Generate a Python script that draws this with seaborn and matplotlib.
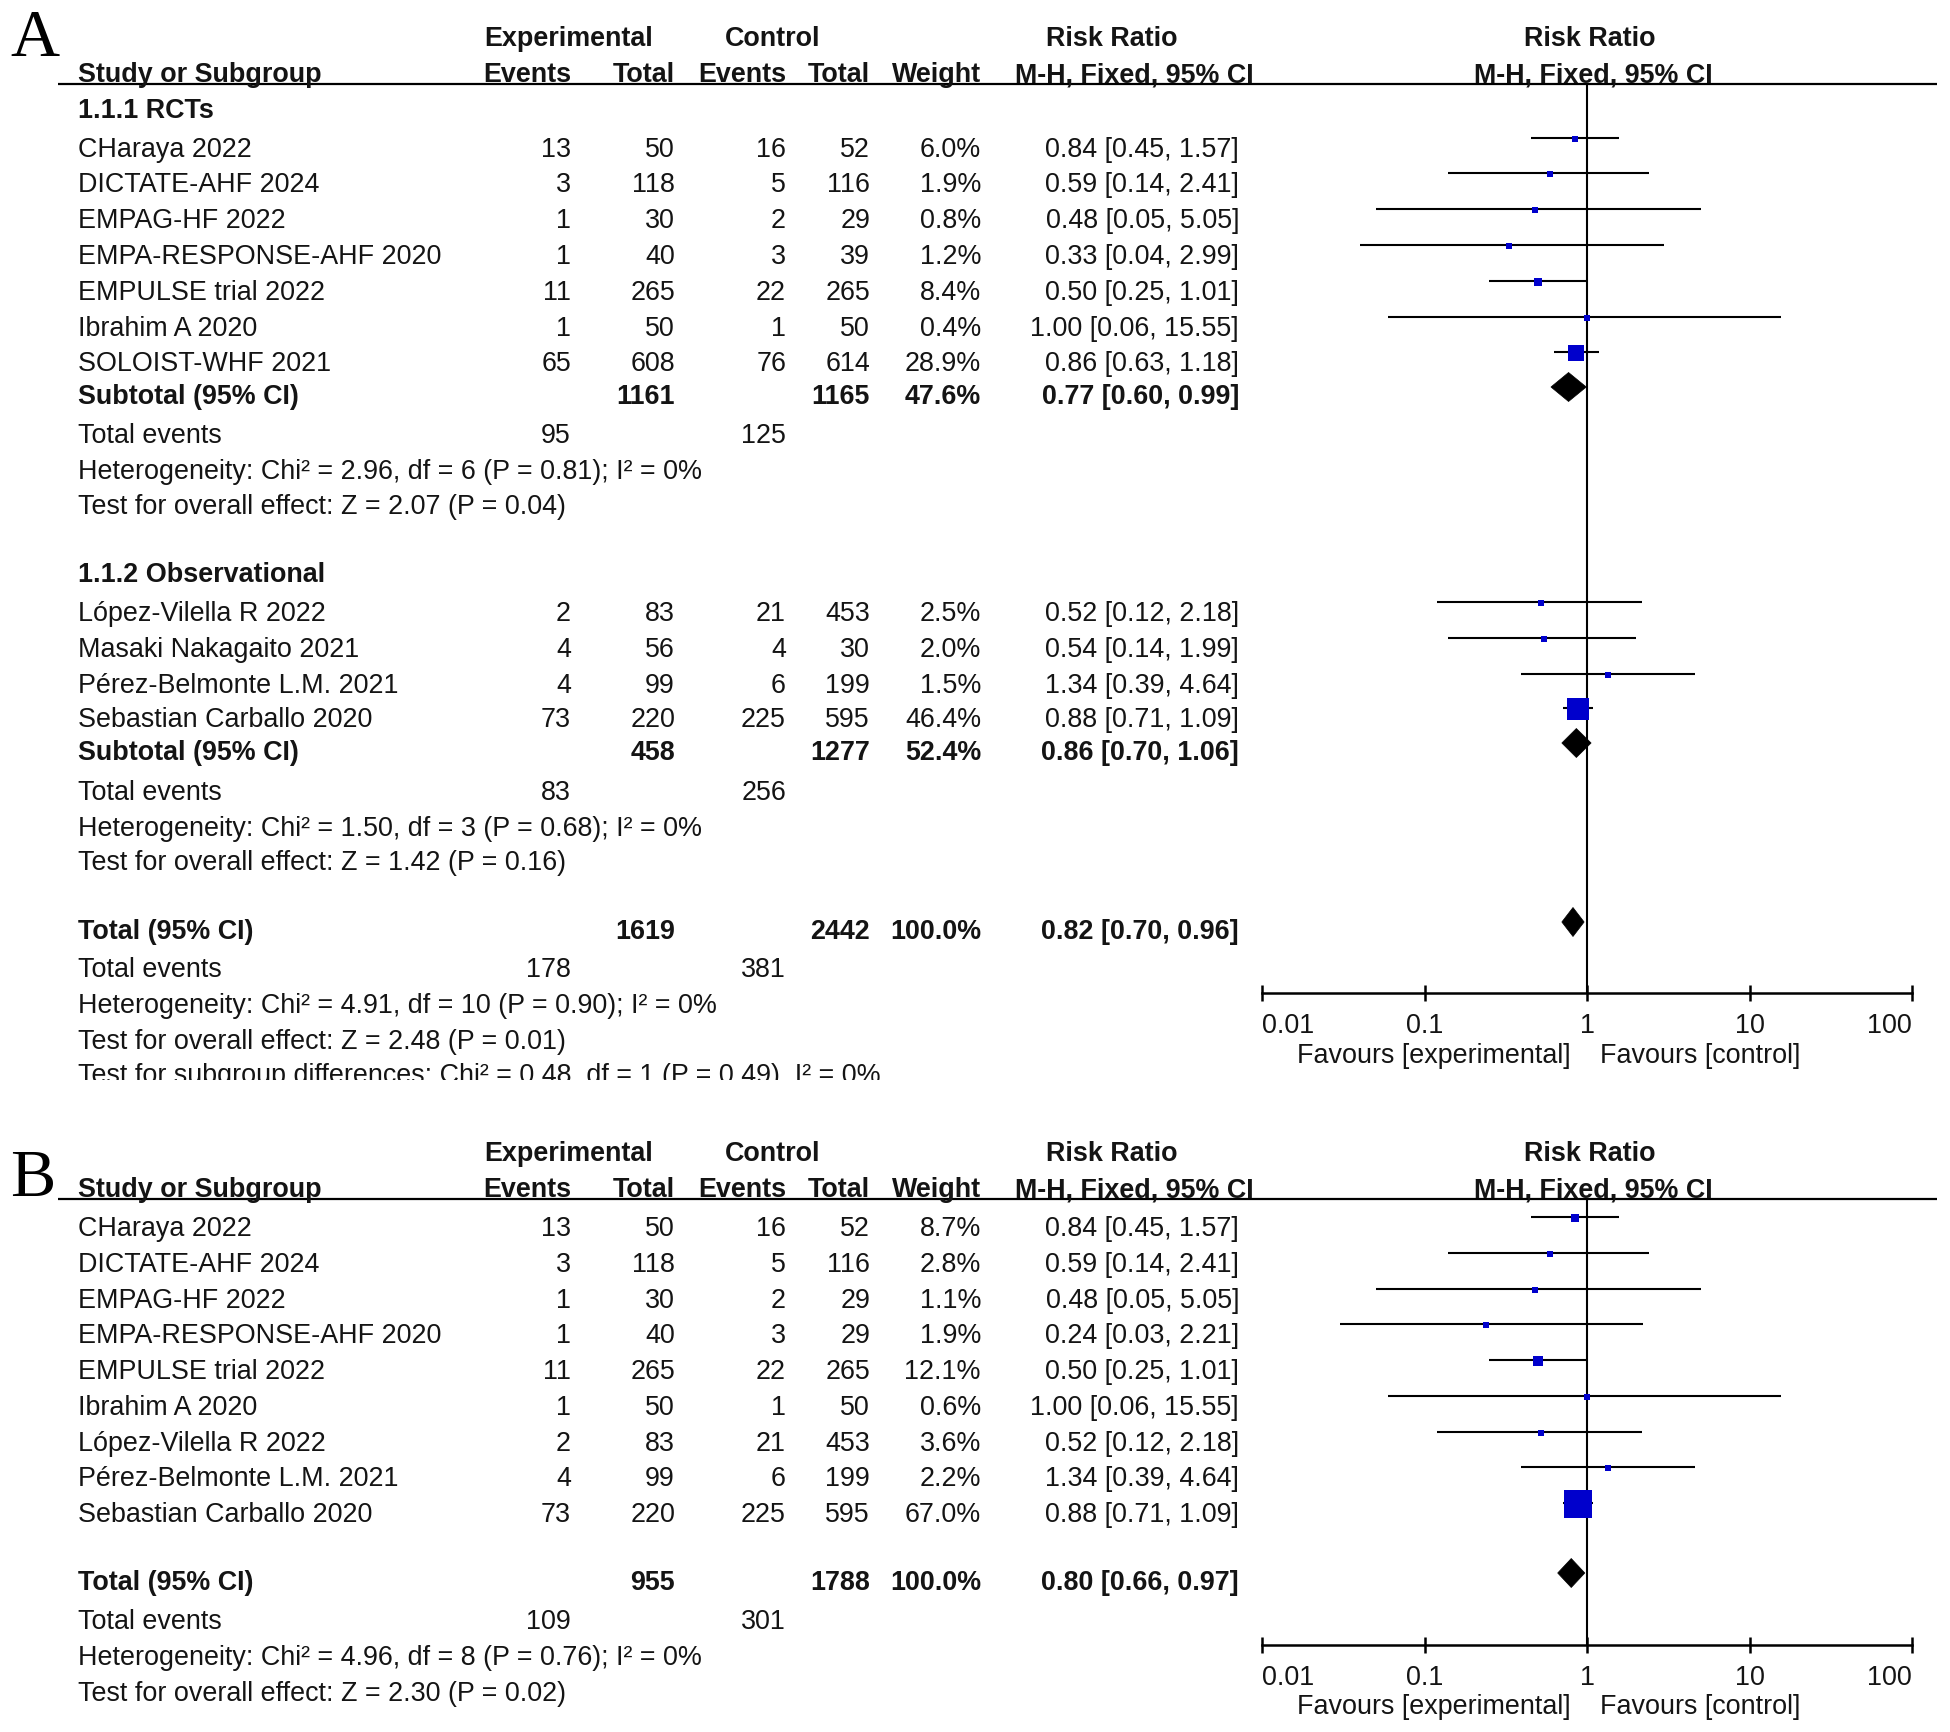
import numpy as np
import pandas as pd
import matplotlib
matplotlib.use("Agg")
import matplotlib.pyplot as plt
import matplotlib.transforms as mtransforms
from matplotlib.patches import Polygon
from matplotlib.ticker import NullLocator
import seaborn as sns

sns.set_theme(style="white")
plt.rcParams['font.family'] = ['Liberation Sans', 'DejaVu Sans']

# ---------------- data: panel A ----------------
rct_names = ["CHaraya 2022", "DICTATE-AHF 2024", "EMPAG-HF 2022", "EMPA-RESPONSE-AHF 2020",
             "EMPULSE trial 2022", "Ibrahim A 2020", "SOLOIST-WHF 2021"]
rct_exp_ev = [13, 3, 1, 1, 11, 1, 65]
rct_exp_tot = [50, 118, 30, 40, 265, 50, 608]
rct_ctl_ev = [16, 5, 2, 3, 22, 1, 76]
rct_ctl_tot = [52, 116, 29, 39, 265, 50, 614]
rct_weight = [6.0, 1.9, 0.8, 1.2, 8.4, 0.4, 28.9]
rct_rr = [0.84, 0.59, 0.48, 0.33, 0.50, 1.00, 0.86]
rct_lo = [0.45, 0.14, 0.05, 0.04, 0.25, 0.06, 0.63]
rct_hi = [1.57, 2.41, 5.05, 2.99, 1.01, 15.55, 1.18]
rct_subtotal = [1161, 1165, 47.6, 0.77, 0.60, 0.99]
rct_events = [95, 125]
rct_het = "Heterogeneity: Chi² = 2.96, df = 6 (P = 0.81); I² = 0%"
rct_test = "Test for overall effect: Z = 2.07 (P = 0.04)"

obs_names = ["López-Vilella R 2022", "Masaki Nakagaito 2021", "Pérez-Belmonte L.M. 2021",
             "Sebastian Carballo 2020"]
obs_exp_ev = [2, 4, 4, 73]
obs_exp_tot = [83, 56, 99, 220]
obs_ctl_ev = [21, 4, 6, 225]
obs_ctl_tot = [453, 30, 199, 595]
obs_weight = [2.5, 2.0, 1.5, 46.4]
obs_rr = [0.52, 0.54, 1.34, 0.88]
obs_lo = [0.12, 0.14, 0.39, 0.71]
obs_hi = [2.18, 1.99, 4.64, 1.09]
obs_subtotal = [458, 1277, 52.4, 0.86, 0.70, 1.06]
obs_events = [83, 256]
obs_het = "Heterogeneity: Chi² = 1.50, df = 3 (P = 0.68); I² = 0%"
obs_test = "Test for overall effect: Z = 1.42 (P = 0.16)"

a_total = [1619, 2442, 100.0, 0.82, 0.70, 0.96]
a_events = [178, 381]
a_het = "Heterogeneity: Chi² = 4.91, df = 10 (P = 0.90); I² = 0%"
a_test = "Test for overall effect: Z = 2.48 (P = 0.01)"
a_subgroup = "Test for subgroup differences: Chi² = 0.48, df = 1 (P = 0.49), I² = 0%"

# ---------------- data: panel B ----------------
b_names = ["CHaraya 2022", "DICTATE-AHF 2024", "EMPAG-HF 2022", "EMPA-RESPONSE-AHF 2020",
           "EMPULSE trial 2022", "Ibrahim A 2020", "López-Vilella R 2022",
           "Pérez-Belmonte L.M. 2021", "Sebastian Carballo 2020"]
b_exp_ev = [13, 3, 1, 1, 11, 1, 2, 4, 73]
b_exp_tot = [50, 118, 30, 40, 265, 50, 83, 99, 220]
b_ctl_ev = [16, 5, 2, 3, 22, 1, 21, 6, 225]
b_ctl_tot = [52, 116, 29, 29, 265, 50, 453, 199, 595]
b_weight = [8.7, 2.8, 1.1, 1.9, 12.1, 0.6, 3.6, 2.2, 67.0]
b_rr = [0.84, 0.59, 0.48, 0.24, 0.50, 1.00, 0.52, 1.34, 0.88]
b_lo = [0.45, 0.14, 0.05, 0.03, 0.25, 0.06, 0.12, 0.39, 0.71]
b_hi = [1.57, 2.41, 5.05, 2.21, 1.01, 15.55, 2.18, 4.64, 1.09]
b_total = [955, 1788, 100.0, 0.80, 0.66, 0.97]
b_events = [109, 301]
b_het = "Heterogeneity: Chi² = 4.96, df = 8 (P = 0.76); I² = 0%"
b_test = "Test for overall effect: Z = 2.30 (P = 0.02)"

x_ticks = [0.01, 0.1, 1, 10, 100]
x_tick_labels = ["0.01", "0.1", "1", "10", "100"]

# ---------------- layout ----------------
W, H = 1950, 1733
FS = 19.4
TXT = "#141414"
BLUE = "#0000CC"
X_NAME, X_EEV, X_ETOT, X_CEV, X_CTOT, X_W, X_RR = 78, 571, 675, 786, 870, 981, 1239
PLOT_L, PLOT_R = 1262, 1912

fig = plt.figure(figsize=(W / 100, H / 100), dpi=100)
fig.patch.set_facecolor("white")
bg = fig.add_axes([0, 0, 1, 1])
bg.set_xlim(0, W)
bg.set_ylim(H, 0)
bg.axis("off")


def txt(x, y, s, ha="left", bold=False, **kw):
    return bg.text(x, y + 9, s, ha=ha, va="baseline", fontsize=FS,
                   fontweight="bold" if bold else "normal", color=TXT, **kw)


def header(y1, y2, rule_y, letter, letter_base):
    bg.text(10, letter_base, letter, fontsize=49,
            family=["Liberation Serif", "DejaVu Serif"], color="black",
            ha="left", va="baseline")
    txt(569, y1, "Experimental", ha="center", bold=True)
    txt(773, y1, "Control", ha="center", bold=True)
    txt(1112, y1, "Risk Ratio", ha="center", bold=True)
    txt(1590, y1, "Risk Ratio", ha="center", bold=True)
    txt(X_NAME, y2, "Study or Subgroup", bold=True)
    txt(X_EEV, y2, "Events", ha="right", bold=True)
    txt(X_ETOT, y2, "Total", ha="right", bold=True)
    txt(X_CEV, y2, "Events", ha="right", bold=True)
    txt(X_CTOT, y2, "Total", ha="right", bold=True)
    txt(X_W, y2, "Weight", ha="right", bold=True)
    txt(1134, y2, "M-H, Fixed, 95% CI", ha="center", bold=True)
    txt(1593, y2, "M-H, Fixed, 95% CI", ha="center", bold=True)
    bg.plot([58, 1937], [rule_y, rule_y], color="black", lw=1.6, solid_capstyle="butt")


def study_rows(ys, names, eev, etot, cev, ctot, w, rr, lo, hi):
    for i, y in enumerate(ys):
        txt(X_NAME, y, names[i])
        txt(X_EEV, y, f"{eev[i]}", ha="right")
        txt(X_ETOT, y, f"{etot[i]}", ha="right")
        txt(X_CEV, y, f"{cev[i]}", ha="right")
        txt(X_CTOT, y, f"{ctot[i]}", ha="right")
        txt(X_W, y, f"{w[i]:.1f}%", ha="right")
        txt(X_RR, y, f"{rr[i]:.2f} [{lo[i]:.2f}, {hi[i]:.2f}]", ha="right")


def summary_row(y, label, vals):
    txt(X_NAME, y, label, bold=True)
    txt(X_ETOT, y, f"{vals[0]}", ha="right", bold=True)
    txt(X_CTOT, y, f"{vals[1]}", ha="right", bold=True)
    txt(X_W, y, f"{vals[2]:.1f}%", ha="right", bold=True)
    txt(X_RR, y, f"{vals[3]:.2f} [{vals[4]:.2f}, {vals[5]:.2f}]", ha="right", bold=True)


def events_row(y, ev):
    txt(X_NAME, y, "Total events")
    txt(X_EEV, y, f"{ev[0]}", ha="right")
    txt(X_CEV, y, f"{ev[1]}", ha="right")


def forest_axes(top, bottom):
    ax = fig.add_axes([PLOT_L / W, 1 - bottom / H, (PLOT_R - PLOT_L) / W, (bottom - top) / H])
    ax.set_facecolor("none")
    ax.set_xscale("log")
    ax.set_xlim(0.01, 100)
    ax.set_ylim(bottom, top)
    ax.axvline(1, color="black", lw=1.5, zorder=1)
    for side in ["top", "right", "left"]:
        ax.spines[side].set_visible(False)
    ax.spines["bottom"].set_color("black")
    ax.spines["bottom"].set_linewidth(1.8)
    ax.set_yticks([])
    ax.xaxis.set_minor_locator(NullLocator())
    ax.set_xticks(x_ticks)
    ax.set_xticklabels(x_tick_labels)
    ax.tick_params(axis="x", bottom=True, direction="inout", length=11.5, width=1.8,
                   pad=8, labelsize=FS, colors="black", labelcolor=TXT)
    labs = ax.get_xticklabels()
    labs[0].set_ha("left")
    labs[-1].set_ha("right")
    ax.set_xlabel("")
    ax.set_ylabel("")
    return ax


def forest_points(ax, ys, rr, lo, hi, w):
    ys = np.asarray(ys, dtype=float) - 8
    ax.hlines(ys - 1.5, lo, hi, colors="black", lw=1.5, zorder=2)
    side_px = np.maximum(6.0, 2.0 * np.power(np.asarray(w, dtype=float), 0.62))
    sizes = (side_px * 0.72) ** 2
    df = pd.DataFrame({"rr": rr, "y": ys})
    sns.scatterplot(data=df, x="rr", y="y", s=sizes, marker="s", color=BLUE,
                    linewidth=0, ax=ax, legend=False, zorder=3)
    ax.set_xlabel("")
    ax.set_ylabel("")


def diamond(ax, y, vals):
    est, lo, hi = vals[3], vals[4], vals[5]
    y = y - 7
    ax.add_patch(Polygon([(lo, y), (est, y - 14.5), (hi, y), (est, y + 14.5)],
                         closed=True, fc="black", ec="black", lw=0.5, zorder=3))


def favours(ax, y):
    ax.annotate("Favours [experimental]", xy=(1, y + 9), xycoords="data",
                xytext=(-16, 0), textcoords="offset pixels", ha="right", va="baseline",
                fontsize=FS, color=TXT, annotation_clip=False)
    ax.annotate("Favours [control]", xy=(1, y + 9), xycoords="data",
                xytext=(13, 0), textcoords="offset pixels", ha="left", va="baseline",
                fontsize=FS, color=TXT, annotation_clip=False)


# ---------------- Panel A ----------------
header(37, 73, 84.5, "A", 56)
txt(X_NAME, 109, "1.1.1 RCTs", bold=True)
rct_y = [148, 183, 219, 255, 291, 327, 362]
study_rows(rct_y, rct_names, rct_exp_ev, rct_exp_tot, rct_ctl_ev, rct_ctl_tot,
           rct_weight, rct_rr, rct_lo, rct_hi)
summary_row(395, "Subtotal (95% CI)", rct_subtotal)
events_row(434, rct_events)
txt(X_NAME, 470, rct_het)
txt(X_NAME, 505, rct_test)

txt(X_NAME, 573, "1.1.2 Observational", bold=True)
obs_y = [612, 648, 684, 718]
study_rows(obs_y, obs_names, obs_exp_ev, obs_exp_tot, obs_ctl_ev, obs_ctl_tot,
           obs_weight, obs_rr, obs_lo, obs_hi)
summary_row(751, "Subtotal (95% CI)", obs_subtotal)
events_row(791, obs_events)
txt(X_NAME, 827, obs_het)
txt(X_NAME, 861, obs_test)

summary_row(930, "Total (95% CI)", a_total)
events_row(968, a_events)
txt(X_NAME, 1004, a_het)
txt(X_NAME, 1040, a_test)
t_sub = txt(X_NAME, 1074, a_subgroup)
t_sub.set_clip_on(True)
t_sub.set_clip_box(mtransforms.Bbox.from_extents(0, H - 1081, W, H))

axA = forest_axes(84.5, 994)
forest_points(axA, rct_y, rct_rr, rct_lo, rct_hi, rct_weight)
forest_points(axA, obs_y, obs_rr, obs_lo, obs_hi, obs_weight)
diamond(axA, 395, rct_subtotal)
diamond(axA, 751, obs_subtotal)
diamond(axA, 930, a_total)
favours(axA, 1054)

# ---------------- Panel B ----------------
header(1152, 1188, 1199.5, "B", 1196)
b_y = [1227, 1263, 1299, 1334, 1370, 1406, 1442, 1477, 1513]
study_rows(b_y, b_names, b_exp_ev, b_exp_tot, b_ctl_ev, b_ctl_tot,
           b_weight, b_rr, b_lo, b_hi)
summary_row(1581, "Total (95% CI)", b_total)
events_row(1620, b_events)
txt(X_NAME, 1656, b_het)
txt(X_NAME, 1692, b_test)

axB = forest_axes(1199.5, 1646)
forest_points(axB, b_y, b_rr, b_lo, b_hi, b_weight)
diamond(axB, 1581, b_total)
favours(axB, 1705)

fig.savefig("out.png", dpi=100, facecolor="white")
